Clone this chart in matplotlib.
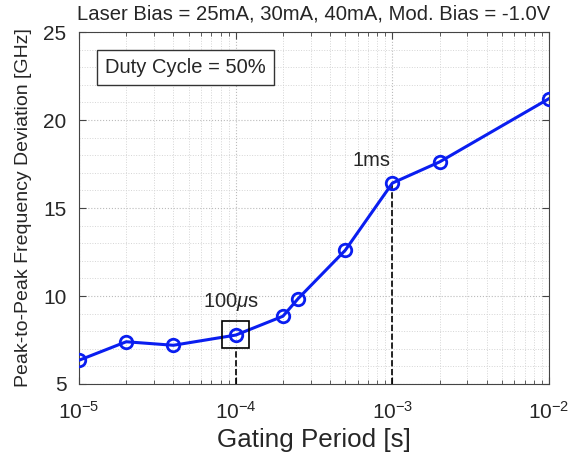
import matplotlib
matplotlib.use("Agg")
import matplotlib.pyplot as plt
from matplotlib.ticker import LogLocator, MultipleLocator, NullFormatter
from matplotlib.patches import Rectangle

plt.rcParams['font.family'] = ['Liberation Sans', 'DejaVu Sans']
plt.rcParams['mathtext.fontset'] = 'custom'
plt.rcParams['mathtext.rm'] = 'Liberation Sans'
plt.rcParams['mathtext.it'] = 'Liberation Sans:italic'
plt.rcParams['mathtext.default'] = 'regular'
plt.rcParams['text.color'] = '#262626'
plt.rcParams['axes.labelcolor'] = '#262626'
plt.rcParams['xtick.color'] = '#262626'
plt.rcParams['ytick.color'] = '#262626'

period = [1e-5, 2e-5, 4e-5, 1e-4, 2e-4, 2.5e-4, 5e-4, 1e-3, 2e-3, 1e-2]
deviation = [6.35, 7.4, 7.2, 7.78, 8.85, 9.85, 12.6, 16.42, 17.62, 21.22]
xticks = [1e-5, 1e-4, 1e-3, 1e-2]
xticklabels = ['$10^{-5}$', '$10^{-4}$', '$10^{-3}$', '$10^{-2}$']
yticks = [5, 10, 15, 20, 25]

fig = plt.figure(figsize=(5.69, 4.58), dpi=100)
ax = fig.add_axes([0.139, 0.1616, 0.826, 0.7684])

ax.plot(period, deviation, '-o', color='#0a1ef0', lw=2.2, ms=9,
        markerfacecolor='none', markeredgewidth=2.0, zorder=5)

ax.set_xscale('log')
ax.set_xlim(1e-5, 1e-2)
ax.set_ylim(5, 25)
ax.set_xticks(xticks)
ax.set_xticklabels(xticklabels)
ax.set_yticks(yticks)
ax.yaxis.set_minor_locator(MultipleLocator(1))
ax.xaxis.set_minor_locator(LogLocator(base=10, subs=range(2, 10)))
ax.xaxis.set_minor_formatter(NullFormatter())

ax.tick_params(which='both', direction='in', top=True, right=True, labelsize=15)
ax.tick_params(which='major', length=5, color='#444444')
ax.tick_params(which='minor', length=3, color='#444444')
ax.tick_params(axis='y', which='minor', length=0)
ax.tick_params(axis='x', pad=12)
ax.tick_params(axis='y', pad=9)

ax.grid(True, which='major', linestyle=':', color='#bbbbbb', lw=0.8)
ax.grid(True, which='minor', linestyle=':', color='#d5d5d5', lw=0.7)
for s in ax.spines.values():
    s.set_color('#444444')
    s.set_linewidth(0.8)

# annotations
ax.plot([1e-3, 1e-3], [5, 16.42], '--', color='black', lw=1.2, zorder=4)
ax.plot([1e-4, 1e-4], [5, 7.05], '--', color='black', lw=1.2, zorder=4)
ax.add_patch(Rectangle((8.2e-5, 7.05), 1.22e-4 - 8.2e-5, 1.53, fill=False,
                       edgecolor='black', lw=1.2, zorder=6))
ax.text(9.33e-5, 9.05, r'100$\mathit{\mu}$s', fontsize=14.5, ha='center', va='bottom')
ax.text(7.4e-4, 17.7, '1ms', fontsize=14.5, ha='center', va='center')
ax.text(1.47e-5, 23.0, 'Duty Cycle = 50%', fontsize=14.5, ha='left', va='center',
        bbox=dict(boxstyle='square,pad=0.4', facecolor='white', edgecolor='#333333', lw=1))

ax.set_title('Laser Bias = 25mA, 30mA, 40mA, Mod. Bias = -1.0V', fontsize=14.6, pad=9)
ax.set_xlabel('Gating Period [s]', fontsize=18.7, labelpad=4)
ax.set_ylabel('Peak-to-Peak Frequency Deviation [GHz]', fontsize=14, labelpad=8)

fig.savefig('out.png', dpi=100)
